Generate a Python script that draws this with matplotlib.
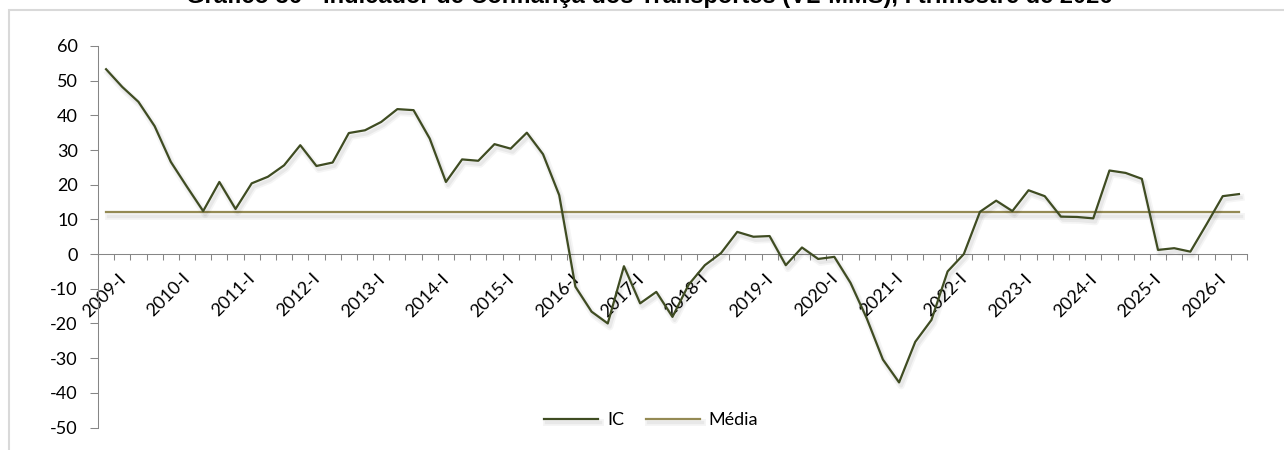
import matplotlib

matplotlib.use("Agg")
import matplotlib.pyplot as plt
import matplotlib.patheffects as pe
import matplotlib.transforms as mtransforms
from matplotlib.patches import Rectangle
from matplotlib.ticker import FixedLocator
import numpy as np

plt.rcParams["font.family"] = ["Lato", "DejaVu Sans"]

TITLE = "Gráfico 36 - Indicador de Confiança dos Transportes (VL-MMS), I trimestre de 2026"

# trimestres, de 2009-I em diante
QUARTERS = ["I", "II", "III", "IV"]
YEARS = list(range(2009, 2027))
PERIODS = [f"{y}-{q}" for y in YEARS for q in QUARTERS][:71]

# Indicador de Confiança (IC)
IC = [
    53.3, 48.2, 43.9, 36.9, 26.6, 19.4, 12.4, 20.8, 13.0, 20.4,
    22.3, 25.6, 31.4, 25.4, 26.4, 34.9, 35.7, 38.1, 41.8, 41.5,
    33.3, 20.8, 27.3, 26.9, 31.7, 30.4, 35.0, 28.8, 17.0, -9.4,
    -16.6, -20.0, -3.5, -14.2, -10.9, -18.1, -8.8, -3.2, 0.3, 6.4,
    5.0, 5.2, -3.2, 1.9, -1.4, -0.8, -8.3, -18.5, -30.4, -37.0,
    -25.3, -19.0, -5.0, 0.0, 12.2, 15.4, 12.4, 18.4, 16.7, 10.8,
    10.7, 10.3, 24.1, 23.4, 21.7, 1.2, 1.7, 0.7, 8.6, 16.7,
    17.3,
]
MEDIA = float(np.mean(IC))

Y_TICKS = list(range(-50, 61, 10))

IC_COLOR = "#3f4c22"
MEDIA_COLOR = "#948a54"
AXIS_COLOR = "#868686"
FONT_SIZE = 13

fig = plt.figure(figsize=(12.84, 4.5), dpi=100)
ax = fig.add_axes([0.0763, 0.05, 0.8949, 0.8478])

# eixos: linha horizontal no zero (antes de configurar os ticks, pois recria os rótulos)
for side in ("top", "right"):
    ax.spines[side].set_visible(False)
ax.spines["bottom"].set_position(("data", 0))
for side in ("left", "bottom"):
    ax.spines[side].set_color(AXIS_COLOR)
    ax.spines[side].set_linewidth(0.75)

x = np.arange(len(PERIODS))
# sombra suave sob as linhas
shadow = [
    pe.SimpleLineShadow(offset=(1.5, -2.5), shadow_color="black", alpha=0.04, linewidth=5),
    pe.SimpleLineShadow(offset=(1.5, -2.5), shadow_color="black", alpha=0.05, linewidth=2.5),
    pe.Normal(),
]
ax.plot(x, IC, color=IC_COLOR, linewidth=1.6, label="IC", path_effects=shadow, zorder=3)
ax.plot(x, [MEDIA] * len(x), color=MEDIA_COLOR, linewidth=1.6, label="Média",
        path_effects=shadow, zorder=2)

ax.set_xlim(-0.5, len(PERIODS) - 0.5)
ax.set_ylim(-50, 60)
ax.set_yticks(Y_TICKS)
ax.set_yticklabels([str(v) for v in Y_TICKS])

# rótulos só no primeiro trimestre de cada ano; marcas entre categorias
label_idx = [i for i, p in enumerate(PERIODS) if p.endswith("-I")]
ax.set_xticks(label_idx)
ax.set_xticklabels([PERIODS[i] for i in label_idx])
ax.xaxis.set_minor_locator(FixedLocator(np.arange(-0.5, len(PERIODS), 1.0)))
ax.tick_params(axis="x", which="major", length=0, pad=16, labelsize=FONT_SIZE)
ax.tick_params(axis="x", which="minor", length=4, width=0.75, color=AXIS_COLOR, direction="out")
ax.tick_params(axis="y", length=5.5, width=0.75, color=AXIS_COLOR, pad=9, labelsize=FONT_SIZE)

shift = mtransforms.ScaledTranslation(0.17, 0, fig.dpi_scale_trans)
for lab in ax.get_xticklabels():
    lab.set_rotation(45)
    lab.set_rotation_mode("anchor")
    lab.set_ha("right")
    lab.set_va("center")
    lab.set_transform(lab.get_transform() + shift)

ax.legend(loc="center", bbox_to_anchor=(0.507, 0.0667), bbox_transform=fig.transFigure,
          ncol=2, frameon=False, fontsize=FONT_SIZE, handlelength=3.0, handletextpad=0.5,
          columnspacing=1.2)

fig.text(0.506, 1 - 3 / 450, TITLE, ha="center", va="baseline", fontsize=17,
         fontweight="bold", family=["Liberation Sans", "DejaVu Sans"])

# moldura da área do gráfico
fig.patches.append(Rectangle((8.5 / 1284, -0.1), 1.2, 1.1 - 10 / 450, transform=fig.transFigure,
                             fill=False, edgecolor="#d9d9d9", linewidth=1.5))

fig.savefig("out.png", dpi=100)
